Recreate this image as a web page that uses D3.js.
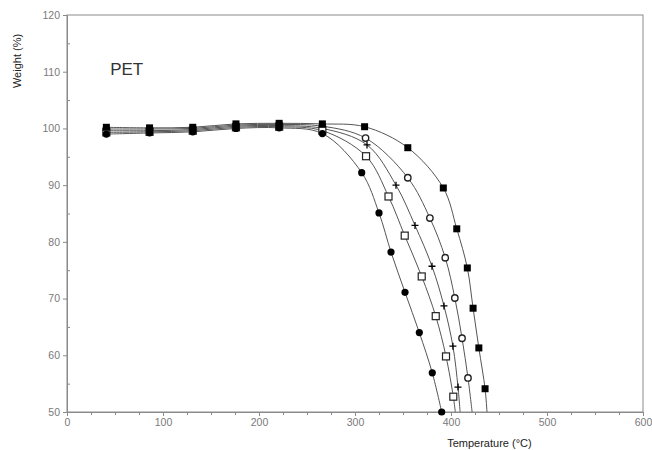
<!DOCTYPE html>
<html>
<head>
<meta charset="utf-8">
<script src="https://cdn.jsdelivr.net/npm/d3@7"></script>
<style>
  body { margin: 0; background: #fff; }
  text { font-family: "Liberation Sans", Arial, sans-serif; }
</style>
</head>
<body>
<div id="chart"></div>
<script>
// temperature (°C) / weight (%), one pair of arrays per sample
var tempA = [41, 86, 131, 176, 221, 266, 310, 355, 392, 406, 417, 423, 429, 435.5, 437.5];
var wtA   = [100.2, 100.1, 100.2, 100.8, 100.9, 100.8, 100.3, 96.6, 89.5, 82.3, 75.4, 68.3, 61.3, 54.1, 50];

var tempB = [41, 86, 131, 176, 221, 266, 311, 355, 378, 394, 404, 411.5, 417.7, 422];
var wtB   = [99.9, 99.9, 100.0, 100.6, 100.7, 100.4, 98.3, 91.3, 84.2, 77.2, 70.1, 63.0, 56.0, 50];

var tempC = [41, 86, 131, 176, 221, 266, 312.5, 342.7, 362.5, 380.2, 392.7, 402, 407.3, 409.5];
var wtC   = [99.6, 99.6, 99.8, 100.4, 100.5, 100.0, 97.1, 90.0, 82.9, 75.7, 68.7, 61.6, 54.4, 50];

var tempD = [41, 86, 131, 176, 221, 266, 311.5, 334.9, 351.8, 369.5, 384.1, 394.8, 402.4, 404.5];
var wtD   = [99.3, 99.4, 99.6, 100.2, 100.3, 99.6, 95.1, 88.0, 81.1, 73.9, 66.9, 59.8, 52.7, 50];

var tempE = [41, 86, 131, 176, 221, 266, 307, 325, 337.5, 352.1, 367, 380.5, 390.3];
var wtE   = [99.0, 99.2, 99.4, 100.0, 100.1, 99.1, 92.2, 85.1, 78.2, 71.1, 64.0, 56.9, 50];

// number of leading points that carry a marker (last point is the axis crossing)
var markedA = 14, markedB = 13, markedC = 13, markedD = 13, markedE = 13;

var xTicks = [0, 100, 200, 300, 400, 500, 600];
var yTicks = [50, 60, 70, 80, 90, 100, 110, 120];

var margin = { top: 15, right: 9, bottom: 38, left: 67 };
var W = 652, H = 450;
var w = W - margin.left - margin.right;
var h = H - margin.top - margin.bottom;

var svg = d3.select("#chart").append("svg")
  .attr("width", W).attr("height", H);
var g = svg.append("g").attr("transform", "translate(" + margin.left + "," + margin.top + ")");

var x = d3.scaleLinear().domain([0, 600]).range([0, w]);
var y = d3.scaleLinear().domain([50, 120]).range([h, 0]);

var axisCol = "#8a8a8a", labelCol = "#7a7a7a";

// frame
g.append("rect").attr("width", w).attr("height", h)
  .attr("fill", "none").attr("stroke", axisCol).attr("stroke-width", 1);

// minor ticks
g.append("g").attr("transform", "translate(0," + h + ")")
  .call(d3.axisBottom(x).tickValues(d3.range(0, 601, 25)).tickSize(3).tickFormat(""))
  .call(function(s){ s.select(".domain").remove(); s.selectAll("line").attr("stroke", axisCol); });
g.append("g")
  .call(d3.axisLeft(y).tickValues(d3.range(55, 120, 10)).tickSize(-3).tickFormat(""))
  .call(function(s){ s.select(".domain").remove(); s.selectAll("line").attr("stroke", axisCol); });

// major axes
var xa = g.append("g").attr("transform", "translate(0," + h + ")")
  .call(d3.axisBottom(x).tickValues(xTicks).tickSize(4).tickPadding(3));
var ya = g.append("g")
  .call(d3.axisLeft(y).tickValues(yTicks).tickSize(4).tickPadding(3));
[xa, ya].forEach(function(a){
  a.select(".domain").attr("stroke", axisCol);
  a.selectAll("line").attr("stroke", axisCol);
  a.selectAll("text").attr("fill", labelCol).style("font-size", "10.5px");
});

svg.append("text").attr("x", margin.left + x(440)).attr("y", 447)
  .attr("text-anchor", "middle").attr("fill", "#222").style("font-size", "11px")
  .text("Temperature (°C)");
svg.append("text").attr("transform", "translate(21,61) rotate(-90)")
  .attr("text-anchor", "middle").attr("fill", "#222").style("font-size", "11px")
  .text("Weight (%)");
g.append("text").attr("x", x(45)).attr("y", y(109.5))
  .attr("fill", "#333").style("font-size", "17px").text("PET");

var series = [
  { t: tempA, w: wtA, n: markedA, mark: "fsquare" },
  { t: tempB, w: wtB, n: markedB, mark: "ocircle" },
  { t: tempC, w: wtC, n: markedC, mark: "plus" },
  { t: tempD, w: wtD, n: markedD, mark: "osquare" },
  { t: tempE, w: wtE, n: markedE, mark: "fcircle" }
];

var line = d3.line().x(function(d){ return x(d[0]); }).y(function(d){ return y(d[1]); })
  .curve(d3.curveCatmullRom.alpha(0.5));

series.forEach(function(s){
  var pts = d3.zip(s.t, s.w);
  g.append("path").attr("d", line(pts))
    .attr("fill", "none").attr("stroke", "#555").attr("stroke-width", 1);
});

// open markers first, filled ones on top (as in the stacked plateau of the original)
[series[1], series[2], series[3], series[4], series[0]].forEach(function(s){
  var pts = d3.zip(s.t, s.w).slice(0, s.n);
  var m = g.append("g").selectAll("g").data(pts).enter().append("g")
    .attr("transform", function(d){ return "translate(" + x(d[0]) + "," + y(d[1]) + ")"; });
  if (s.mark === "fsquare") {
    m.append("rect").attr("x", -3.5).attr("y", -3.5).attr("width", 7).attr("height", 7).attr("fill", "#000");
  } else if (s.mark === "osquare") {
    m.append("rect").attr("x", -3.5).attr("y", -3.5).attr("width", 7).attr("height", 7)
      .attr("fill", "#fff").attr("stroke", "#222").attr("stroke-width", 1.2);
  } else if (s.mark === "ocircle") {
    m.append("circle").attr("r", 3.2).attr("fill", "#fff").attr("stroke", "#222").attr("stroke-width", 1.4);
  } else if (s.mark === "fcircle") {
    m.append("circle").attr("r", 3.6).attr("fill", "#000");
  } else {
    m.append("path").attr("d", "M-3.5,0H3.5M0,-3.5V3.5").attr("stroke", "#000").attr("stroke-width", 1.3);
  }
});
</script>
</body>
</html>
